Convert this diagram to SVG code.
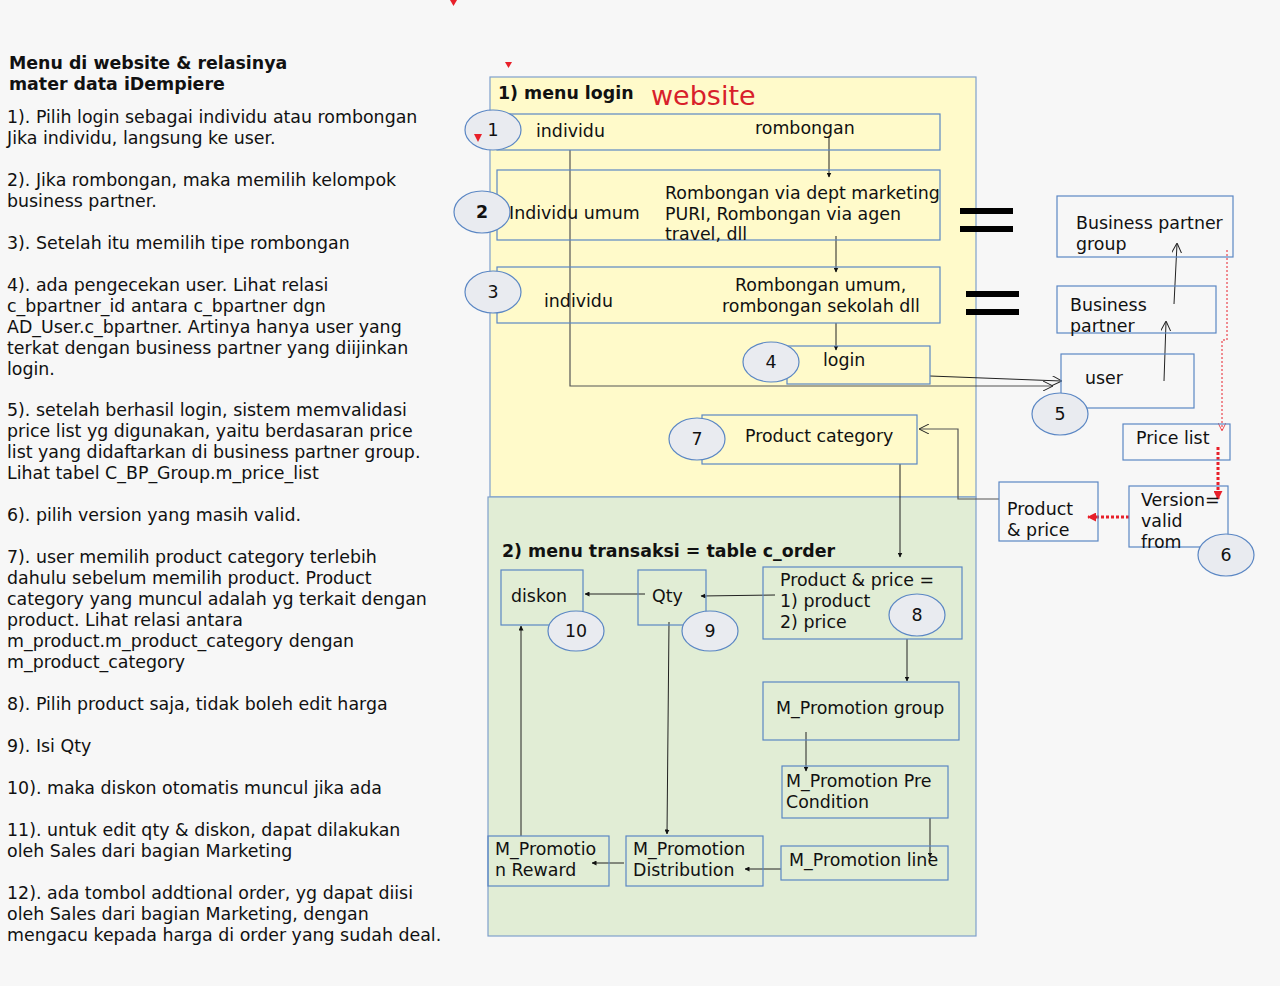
<svg xmlns="http://www.w3.org/2000/svg" width="1280" height="986" viewBox="0 0 1280 986">
<style>
text{font-family:"DejaVu Sans","Liberation Sans",sans-serif;font-size:17.4px;fill:#111}
.b{font-weight:bold}
.box{fill:none;stroke:#5b87c4;stroke-width:1.2}
.ell{fill:#e9ebf0;stroke:#5b87c4;stroke-width:1.2}
.ln{fill:none;stroke:#222;stroke-width:1}
.gl{fill:none;stroke:#555;stroke-width:1.2}
.rd{fill:none;stroke:#e8202a;stroke-width:3;stroke-dasharray:3 2}
.rt{fill:none;stroke:#e8202a;stroke-width:1;stroke-dasharray:2 2}
.eq{fill:#000}
.red{fill:#e8202a}
</style>
<defs>
<marker id="a" viewBox="0 0 10 10" refX="9" refY="5" markerWidth="5" markerHeight="5" orient="auto" markerUnits="userSpaceOnUse"><path d="M0,0 L10,5 L0,10 z" fill="#111"/></marker>
<marker id="o" viewBox="0 0 10 10" refX="9" refY="5" markerWidth="10" markerHeight="10" orient="auto" markerUnits="userSpaceOnUse"><path d="M0,0 L10,5 L0,10" fill="none" stroke="#222" stroke-width="1"/></marker>
<marker id="r" viewBox="0 0 10 10" refX="9" refY="5" markerWidth="9" markerHeight="9" orient="auto" markerUnits="userSpaceOnUse"><path d="M0,0 L10,5 L0,10 z" fill="#e8202a"/></marker>
<marker id="ro" viewBox="0 0 10 10" refX="9" refY="5" markerWidth="8" markerHeight="8" orient="auto" markerUnits="userSpaceOnUse"><path d="M0,0 L10,5 L0,10" fill="none" stroke="#e8202a" stroke-width="1"/></marker>
</defs>
<rect width="1280" height="986" fill="#f7f7f7"/>

<g id="notes">
<text class="b" x="9" y="69">Menu di website &amp; relasinya</text>
<text class="b" x="9" y="90">mater data iDempiere</text>
<text x="7" y="123">1). Pilih login sebagai individu atau rombongan</text>
<text x="7" y="144">Jika individu, langsung ke user.</text>
<text x="7" y="186">2). Jika rombongan, maka memilih kelompok</text>
<text x="7" y="207">business partner.</text>
<text x="7" y="249">3). Setelah itu memilih tipe rombongan</text>
<text x="7" y="291">4). ada pengecekan user. Lihat relasi</text>
<text x="7" y="312">c_bpartner_id antara c_bpartner dgn</text>
<text x="7" y="333">AD_User.c_bpartner. Artinya hanya user yang</text>
<text x="7" y="354">terkat dengan business partner yang diijinkan</text>
<text x="7" y="375">login.</text>
<text x="7" y="416">5). setelah berhasil login, sistem memvalidasi</text>
<text x="7" y="437">price list yg digunakan, yaitu berdasaran price</text>
<text x="7" y="458">list yang didaftarkan di business partner group.</text>
<text x="7" y="479">Lihat tabel C_BP_Group.m_price_list</text>
<text x="7" y="521">6). pilih version yang masih valid.</text>
<text x="7" y="563">7). user memilih product category terlebih</text>
<text x="7" y="584">dahulu sebelum memilih product. Product</text>
<text x="7" y="605">category yang muncul adalah yg terkait dengan</text>
<text x="7" y="626">product. Lihat relasi antara</text>
<text x="7" y="647">m_product.m_product_category dengan</text>
<text x="7" y="668">m_product_category</text>
<text x="7" y="710">8). Pilih product saja, tidak boleh edit harga</text>
<text x="7" y="752">9). Isi Qty</text>
<text x="7" y="794">10). maka diskon otomatis muncul jika ada</text>
<text x="7" y="836">11). untuk edit qty &amp; diskon, dapat dilakukan</text>
<text x="7" y="857">oleh Sales dari bagian Marketing</text>
<text x="7" y="899">12). ada tombol addtional order, yg dapat diisi</text>
<text x="7" y="920">oleh Sales dari bagian Marketing, dengan</text>
<text x="7" y="941">mengacu kepada harga di order yang sudah deal.</text>
</g>

<g id="region-login">
<rect x="490" y="77" width="486" height="420" fill="#fffaca" stroke="#7fa0cc" stroke-width="1.2"/>
<text class="b" x="498" y="99">1) menu login</text>
<text x="651" y="105" style="font-size:27px;fill:#d8202a">website</text>
</g>
<g id="region-transaksi">
<rect x="488" y="497" width="488" height="439" fill="#e1edd5" stroke="#7fa0cc" stroke-width="1.2"/>
<text class="b" x="502" y="557">2) menu transaksi = table c_order</text>
</g>

<g id="marks">
<path class="red" d="M450,0 L457,0 L453.5,6 z"/>
<path class="red" d="M505,62 L512,62 L508.5,68 z"/>
<rect class="eq" x="960" y="208" width="53" height="6"/>
<rect class="eq" x="960" y="226" width="53" height="6"/>
<rect class="eq" x="966" y="291" width="53" height="6"/>
<rect class="eq" x="966" y="309" width="53" height="6"/>
</g>

<g id="connectors">
<path class="ln" d="M829,137 V177" marker-end="url(#a)"/>
<path class="ln" d="M836,236 V272" marker-end="url(#a)"/>
<path class="ln" d="M836,323 V350" marker-end="url(#a)"/>
<path class="gl" d="M570,150 V386 H1052" marker-end="url(#o)"/>
<path class="ln" d="M930,376 L1061,381" marker-end="url(#o)"/>
<path class="ln" d="M1164,381 L1166,322" marker-end="url(#o)"/>
<path class="ln" d="M1174,304 L1177,244" marker-end="url(#o)"/>
<path class="rt" d="M1227,250 V340 H1222 V430" marker-end="url(#ro)"/>
<path class="rd" d="M1218,447 V499" marker-end="url(#r)"/>
<path class="rd" d="M1129,517 H1088" marker-end="url(#r)"/>
<path class="gl" d="M999,499 H958 V429 H920" marker-end="url(#o)"/>
<path class="ln" d="M900,464 V557" marker-end="url(#a)"/>
<path class="ln" d="M645,594 H585" marker-end="url(#a)"/>
<path class="ln" d="M775,595 L701,596" marker-end="url(#a)"/>
<path class="ln" d="M907,639 V681" marker-end="url(#a)"/>
<path class="ln" d="M806,732 V771" marker-end="url(#a)"/>
<path class="ln" d="M930,818 V857" marker-end="url(#a)"/>
<path class="ln" d="M781,869 H745" marker-end="url(#a)"/>
<path class="ln" d="M624,863 H592" marker-end="url(#a)"/>
<path class="ln" d="M521,836 V626" marker-end="url(#a)"/>
<path class="ln" d="M669,622 L667,834" marker-end="url(#a)"/>
</g>

<g id="n-box1">
<rect class="box" x="497" y="114" width="443" height="36"/>
<text x="536" y="137">individu</text>
<text x="755" y="134">rombongan</text>
</g>
<g id="n-box2">
<rect class="box" x="497" y="170" width="443" height="70"/>
<text x="509" y="219">Individu umum</text>
<text x="665" y="199">Rombongan via dept marketing</text>
<text x="665" y="220">PURI, Rombongan via agen</text>
<text x="665" y="240">travel, dll</text>
</g>
<g id="n-box3">
<rect class="box" x="497" y="267" width="443" height="56"/>
<text x="544" y="307">individu</text>
<text x="735" y="291">Rombongan umum,</text>
<text x="722" y="312">rombongan sekolah dll</text>
</g>
<g id="n-login">
<rect class="box" x="787" y="346" width="143" height="38"/>
<text x="823" y="366">login</text>
</g>
<g id="n-bpg">
<rect class="box" x="1057" y="196" width="176" height="61"/>
<text x="1076" y="229">Business partner</text>
<text x="1076" y="250">group</text>
</g>
<g id="n-bp">
<rect class="box" x="1057" y="286" width="159" height="47"/>
<text x="1070" y="311">Business</text>
<text x="1070" y="332">partner</text>
</g>
<g id="n-user">
<rect class="box" x="1061" y="354" width="133" height="54"/>
<text x="1085" y="384">user</text>
</g>
<g id="n-pricelist">
<rect class="box" x="1123" y="424" width="107" height="36"/>
<text x="1136" y="444">Price list</text>
</g>
<g id="n-version">
<rect class="box" x="1129" y="486" width="99" height="61"/>
<text x="1141" y="506">Version=</text>
<text x="1141" y="527">valid</text>
<text x="1141" y="548">from</text>
</g>
<g id="n-prodprice-right">
<rect class="box" x="999" y="482" width="99" height="59"/>
<text x="1007" y="515">Product</text>
<text x="1007" y="536">&amp; price</text>
</g>
<g id="n-prodcat">
<rect class="box" x="702" y="415" width="215" height="49"/>
<text x="745" y="442">Product category</text>
</g>
<g id="n-diskon">
<rect class="box" x="501" y="570" width="82" height="55"/>
<text x="511" y="602">diskon</text>
</g>
<g id="n-qty">
<rect class="box" x="638" y="570" width="68" height="55"/>
<text x="652" y="602">Qty</text>
</g>
<g id="n-prodprice">
<rect class="box" x="763" y="567" width="199" height="72"/>
<text x="780" y="586">Product &amp; price =</text>
<text x="780" y="607">1) product</text>
<text x="780" y="628">2) price</text>
</g>
<g id="n-promogroup">
<rect class="box" x="763" y="682" width="196" height="58"/>
<text x="776" y="714">M_Promotion group</text>
</g>
<g id="n-promopre">
<rect class="box" x="782" y="766" width="166" height="52"/>
<text x="786" y="787">M_Promotion Pre</text>
<text x="786" y="808">Condition</text>
</g>
<g id="n-promoline">
<rect class="box" x="781" y="846" width="167" height="34"/>
<text x="789" y="866">M_Promotion line</text>
</g>
<g id="n-promodist">
<rect class="box" x="626" y="836" width="137" height="50"/>
<text x="633" y="855">M_Promotion</text>
<text x="633" y="876">Distribution</text>
</g>
<g id="n-promoreward">
<rect class="box" x="488" y="836" width="121" height="50"/>
<text x="495" y="855">M_Promotio</text>
<text x="495" y="876">n Reward</text>
</g>

<g id="badges">
<g id="b1"><ellipse class="ell" cx="493" cy="130" rx="28" ry="20"/><text x="493" y="136" text-anchor="middle">1</text><path class="red" d="M474,134 L482,134 L478,142 z"/></g>
<g id="b2"><ellipse class="ell" cx="482" cy="212" rx="28" ry="21"/><text class="b" x="482" y="218" text-anchor="middle">2</text></g>
<g id="b3"><ellipse class="ell" cx="493" cy="292" rx="28" ry="21"/><text x="493" y="298" text-anchor="middle">3</text></g>
<g id="b4"><ellipse class="ell" cx="771" cy="362" rx="28" ry="20"/><text x="771" y="368" text-anchor="middle">4</text></g>
<g id="b5"><ellipse class="ell" cx="1060" cy="414" rx="28" ry="21"/><text x="1060" y="420" text-anchor="middle">5</text></g>
<g id="b6"><ellipse class="ell" cx="1226" cy="555" rx="28" ry="21"/><text x="1226" y="561" text-anchor="middle">6</text></g>
<g id="b7"><ellipse class="ell" cx="697" cy="439" rx="28" ry="21"/><text x="697" y="445" text-anchor="middle">7</text></g>
<g id="b8"><ellipse class="ell" cx="917" cy="615" rx="28" ry="21"/><text x="917" y="621" text-anchor="middle">8</text></g>
<g id="b9"><ellipse class="ell" cx="710" cy="631" rx="28" ry="20"/><text x="710" y="637" text-anchor="middle">9</text></g>
<g id="b10"><ellipse class="ell" cx="576" cy="631" rx="28" ry="20"/><text x="576" y="637" text-anchor="middle">10</text></g>
</g>
</svg>
